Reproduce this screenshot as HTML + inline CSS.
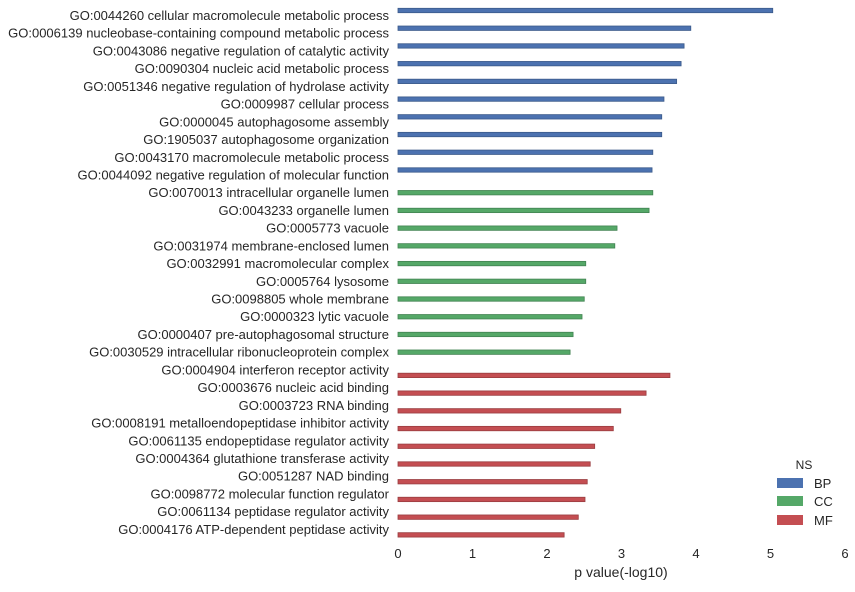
<!DOCTYPE html>
<html><head><meta charset="utf-8"><style>
body{margin:0;background:#fff;}
svg text{font-family:"Liberation Sans",Arial,sans-serif;fill:#262626;}
</style></head><body>
<svg width="855" height="587" xmlns="http://www.w3.org/2000/svg">
<g id="bars"></g>
<g id="labels"></g>
<g id="xaxis"></g>
<text x="621" y="577" font-size="14" text-anchor="middle">p value(-log10)</text>
<g>
<text x="804" y="469" font-size="12" text-anchor="middle">NS</text>
<g><rect x="777" y="478" width="26" height="10" fill="#4c72b0"/><text x="814" y="488" font-size="13">BP</text></g>
<g><rect x="777" y="496" width="26" height="10" fill="#55a868"/><text x="814" y="506" font-size="13">CC</text></g>
<g><rect x="777" y="515" width="26" height="10" fill="#c44e52"/><text x="814" y="525" font-size="13">MF</text></g>
</g>
</svg>
<script>
const categories=["GO:0044260 cellular macromolecule metabolic process","GO:0006139 nucleobase-containing compound metabolic process","GO:0043086 negative regulation of catalytic activity","GO:0090304 nucleic acid metabolic process","GO:0051346 negative regulation of hydrolase activity","GO:0009987 cellular process","GO:0000045 autophagosome assembly","GO:1905037 autophagosome organization","GO:0043170 macromolecule metabolic process","GO:0044092 negative regulation of molecular function","GO:0070013 intracellular organelle lumen","GO:0043233 organelle lumen","GO:0005773 vacuole","GO:0031974 membrane-enclosed lumen","GO:0032991 macromolecular complex","GO:0005764 lysosome","GO:0098805 whole membrane","GO:0000323 lytic vacuole","GO:0000407 pre-autophagosomal structure","GO:0030529 intracellular ribonucleoprotein complex","GO:0004904 interferon receptor activity","GO:0003676 nucleic acid binding","GO:0003723 RNA binding","GO:0008191 metalloendopeptidase inhibitor activity","GO:0061135 endopeptidase regulator activity","GO:0004364 glutathione transferase activity","GO:0051287 NAD binding","GO:0098772 molecular function regulator","GO:0061134 peptidase regulator activity","GO:0004176 ATP-dependent peptidase activity"];
const namespaces=["BP","BP","BP","BP","BP","BP","BP","BP","BP","BP","CC","CC","CC","CC","CC","CC","CC","CC","CC","CC","MF","MF","MF","MF","MF","MF","MF","MF","MF","MF"];
const values=[5.03,3.93,3.84,3.80,3.74,3.57,3.54,3.54,3.42,3.41,3.42,3.37,2.94,2.91,2.52,2.52,2.50,2.47,2.35,2.31,3.65,3.33,2.99,2.89,2.64,2.58,2.54,2.51,2.42,2.23];
const xTicks=[0,1,2,3,4,5,6];
const NS="http://www.w3.org/2000/svg";
const x=v=>398+v*74.5;
const rowY=i=>15.5+i*17.72;
const colors={BP:"#4c72b0",CC:"#55a868",MF:"#c44e52"};
const strokes={BP:"#3b5a8a",CC:"#428352",MF:"#993d40"};
const off={BP:-5,CC:0,MF:5.5};
const bars=document.getElementById('bars'),labels=document.getElementById('labels'),xa=document.getElementById('xaxis');
categories.forEach((c,i)=>{
  const ns=namespaces[i];
  const r=document.createElementNS(NS,'rect');
  
  
  const cy=rowY(i)+off[ns];
  r.setAttribute('x',x(0));r.setAttribute('y',cy-2.2);
  r.setAttribute('width',x(values[i])-x(0));r.setAttribute('height',4.4);
  r.setAttribute('fill',colors[ns]);r.setAttribute('stroke',strokes[ns]);r.setAttribute('stroke-width','0.8');
  bars.appendChild(r);
  const t=document.createElementNS(NS,'text');
  
  
  t.setAttribute('x',389);t.setAttribute('y',rowY(i)+4.5);
  t.setAttribute('text-anchor','end');t.setAttribute('font-size','13');
  t.textContent=c;labels.appendChild(t);
});
xTicks.forEach(v=>{
  const t=document.createElementNS(NS,'text');
  
  
  t.setAttribute('x',x(v));t.setAttribute('y',558);
  t.setAttribute('text-anchor','middle');t.setAttribute('font-size','13');
  t.textContent=v;xa.appendChild(t);
});
</script>
</body></html>
